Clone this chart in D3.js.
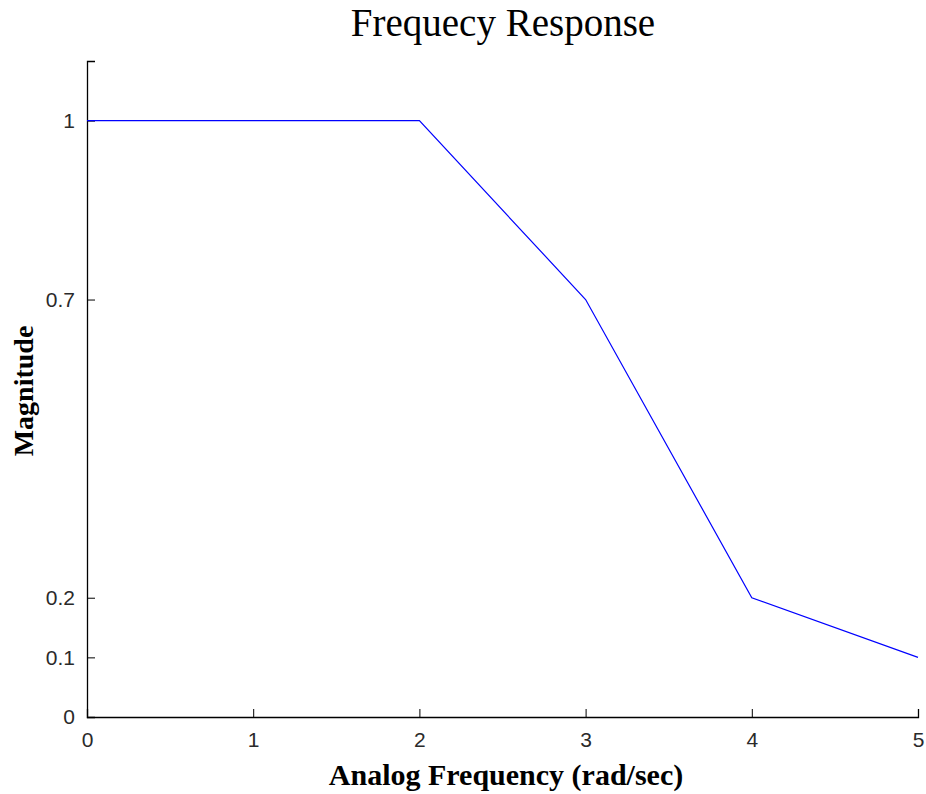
<!DOCTYPE html>
<html><head><meta charset="utf-8">
<script src="https://cdn.jsdelivr.net/npm/d3@7"></script>
<style>body{margin:0;background:#fff}</style>
</head><body>
<script>
const freq = [0, 1, 2, 3, 4, 5];
const magnitude = [1, 1, 1, 0.7, 0.2, 0.1];
const xTicks = [0, 1, 2, 3, 4, 5];
const yTicks = [0, 0.1, 0.2, 0.7, 1];
const titleText = "Frequecy Response";
const xLabel = "Analog Frequency (rad/sec)";
const yLabel = "Magnitude";

const W = 926, H = 794;
const m = {left: 87, right: 8, top: 61, bottom: 77};
const svg = d3.select("body").append("svg").attr("width", W).attr("height", H);
const x = d3.scaleLinear().domain([0, 5]).range([m.left, W - m.right]);
const y = d3.scaleLinear().domain([0, 1.1]).range([H - m.bottom, m.top]);

const tickFont = "'Liberation Sans', Arial, sans-serif";
const serif = "'Liberation Serif', 'Times New Roman', serif";

const xAxis = svg.append("g").attr("transform", `translate(0,${H - m.bottom})`)
  .call(d3.axisBottom(x).tickValues(xTicks).tickSize(-8).tickPadding(15).tickFormat(d3.format("d")));
const yAxis = svg.append("g").attr("transform", `translate(${m.left},0)`)
  .call(d3.axisLeft(y).tickValues(yTicks).tickSize(-8).tickPadding(12).tickFormat(d => d3.format("")(d)));
[xAxis, yAxis].forEach(g => {
  g.select(".domain").attr("stroke", "#000").attr("stroke-width", 1.3);
  g.selectAll(".tick line").attr("stroke", "#000");
  g.selectAll(".tick text").attr("font-family", tickFont).attr("font-size", 21).attr("fill", "#2a2a2a");
});

svg.append("path").datum(freq.map((f, i) => [f, magnitude[i]]))
  .attr("fill", "none").attr("stroke", "#0000ff").attr("stroke-width", 1.2)
  .attr("d", d3.line().x(d => x(d[0])).y(d => y(d[1])));

svg.append("text").attr("x", 503).attr("y", 36).attr("text-anchor", "middle")
  .attr("font-family", serif).attr("font-size", 39).text(titleText);
svg.append("text").attr("x", 506).attr("y", 785).attr("text-anchor", "middle")
  .attr("font-family", serif).attr("font-weight", "bold").attr("font-size", 30).text(xLabel);
svg.append("text").attr("transform", "translate(33,391) rotate(-90)").attr("text-anchor", "middle")
  .attr("font-family", serif).attr("font-weight", "bold").attr("font-size", 28).text(yLabel);
</script>
</body></html>
